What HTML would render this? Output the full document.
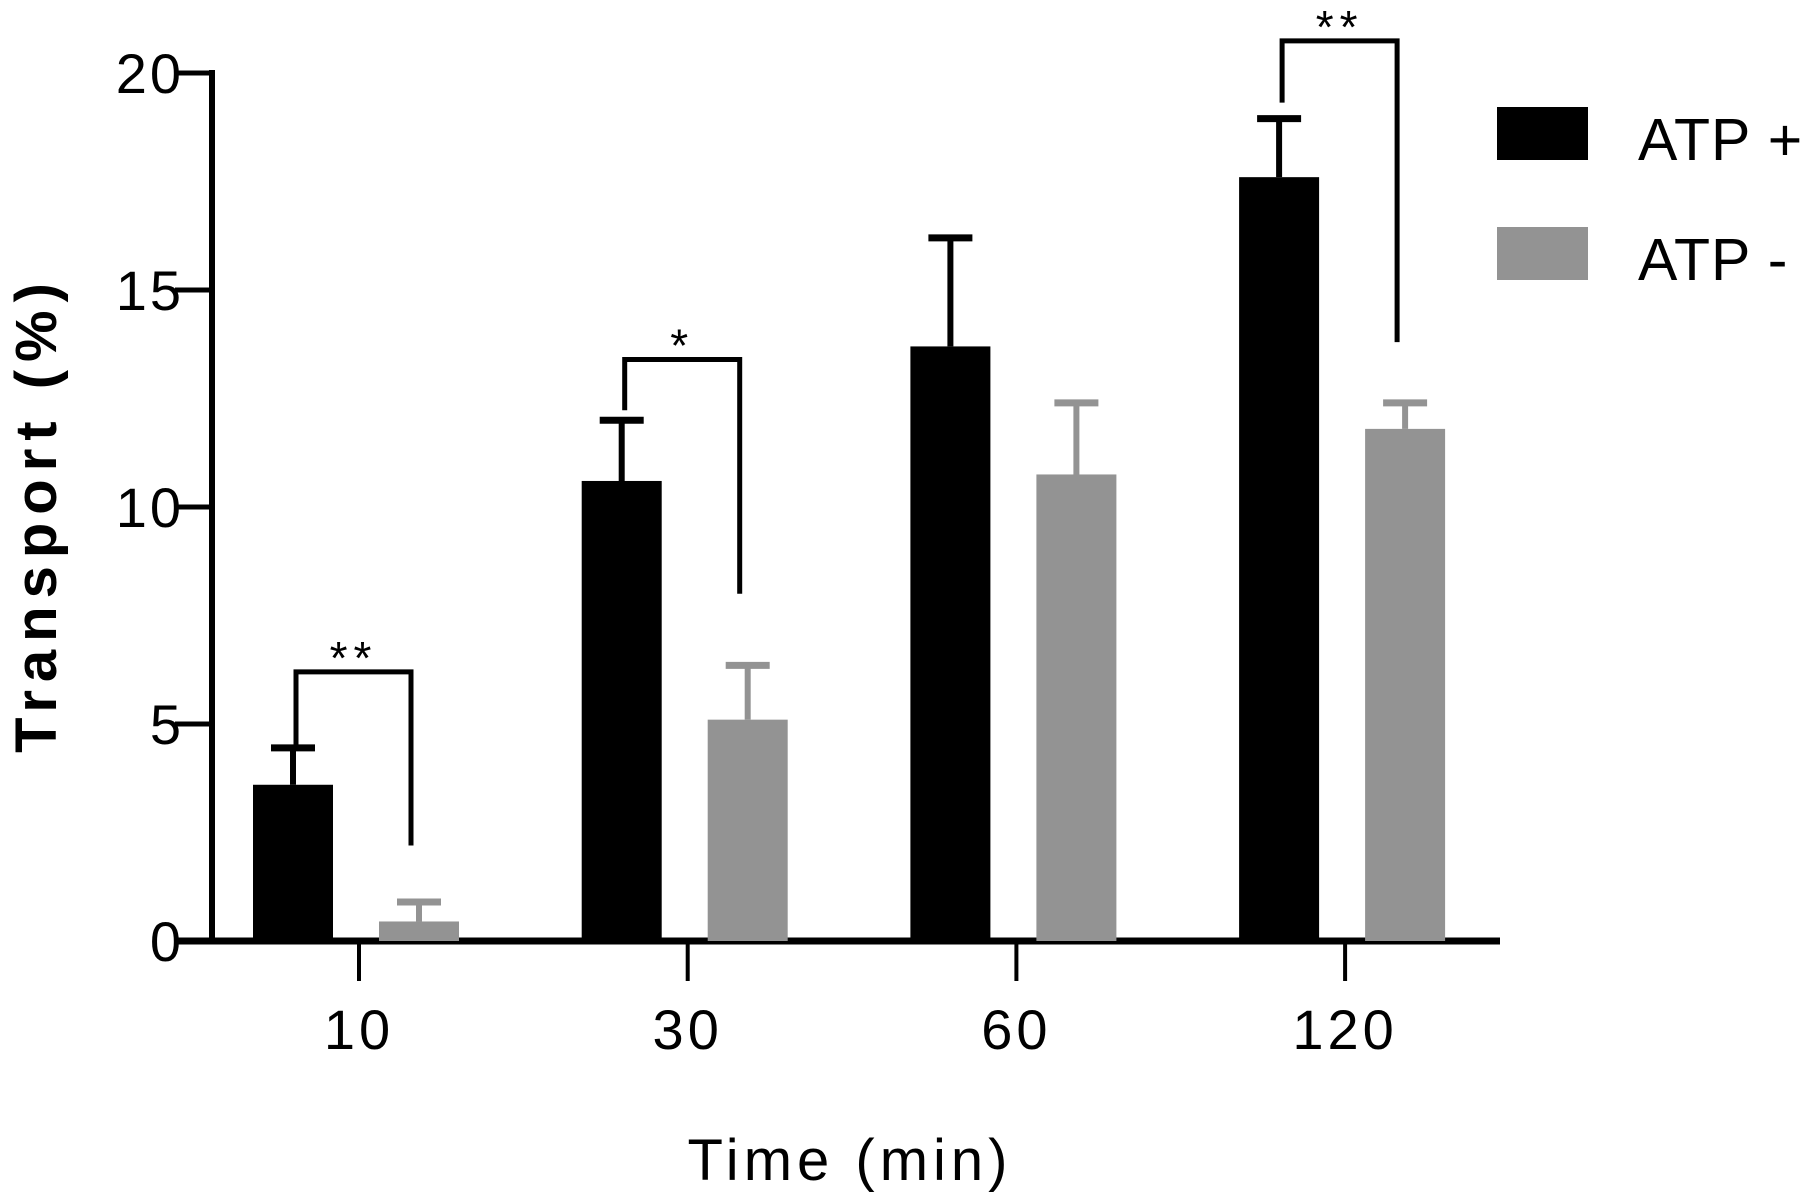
<!DOCTYPE html>
<html><head><meta charset="utf-8"><style>
html,body{margin:0;padding:0;background:#fff;}
svg{display:block;}
text{font-family:"Liberation Sans Narrow","Liberation Sans",sans-serif;fill:#000;}
</style></head><body>
<svg id="chart" width="1800" height="1201" viewBox="0 0 1800 1201" xmlns="http://www.w3.org/2000/svg">
<g id="axes"></g><g id="bars"></g><g id="sig"></g>
<g>
<rect x="1497" y="107" width="91" height="53" fill="#000"/>
<text x="1638" y="160" font-size="59" letter-spacing="1">ATP +</text>
<rect x="1497" y="227" width="91" height="53" fill="#939393"/>
<text x="1638" y="280" font-size="59" letter-spacing="1">ATP -</text>
</g>
<text x="850" y="1180" font-size="58" text-anchor="middle" letter-spacing="5">Time (min)</text>
<text transform="translate(56,514) rotate(-90)" font-size="58" font-weight="bold" text-anchor="middle" letter-spacing="8">Transport (%)</text>
</svg>
<script>
const categories=["10","30","60","120"];
const atpPlus=[3.6,10.6,13.7,17.6];
const atpPlusErr=[4.45,12.0,16.2,18.95];
const atpMinus=[0.45,5.1,10.75,11.8];
const atpMinusErr=[0.9,6.35,12.4,12.4];
const yTicks=[0,5,10,15,20];
const sigLabels=["**","*","","**"];

const NS="http://www.w3.org/2000/svg";
const y0=941,y20=73;
function y(v){return y0-(v/20)*(y0-y20);}
const gx0=359,gstep=328.7;
function gx(i){return gx0+i*gstep;}
const bw=80;
function mk(tag,attrs,parent){const e=document.createElementNS(NS,tag);for(const k in attrs)e.setAttribute(k,attrs[k]);parent.appendChild(e);return e;}
const axes=document.getElementById('axes'),bars=document.getElementById('bars'),sig=document.getElementById('sig');

let a=mk('line',{x1:212,y1:y20-3,x2:212,y2:y0+3,stroke:'#000','stroke-width':6},axes);


a=mk('line',{x1:174,y1:y0,x2:1500,y2:y0,stroke:'#000','stroke-width':7},axes);


yTicks.forEach(t=>{
 let l=mk('line',{x1:175,y1:y(t),x2:212,y2:y(t),stroke:'#000','stroke-width':5},axes);
 
 
 let tx=mk('text',{x:184,y:y(t)+20,'font-size':56,'text-anchor':'end','letter-spacing':3},axes);
 tx.textContent=t;
 
 
});
categories.forEach((c,i)=>{
 let l=mk('line',{x1:gx(i),y1:y0,x2:gx(i),y2:981,stroke:'#000','stroke-width':4},axes);
 
 
 let tx=mk('text',{x:gx(i),y:1049,'font-size':56,'text-anchor':'middle','letter-spacing':4},axes);
 tx.textContent=c;
 
 
 const bx=gx(i)-106, gxx=gx(i)+20;
 const series=[[bx,atpPlus[i],atpPlusErr[i],'#000','bar-atp-plus'],[gxx,atpMinus[i],atpMinusErr[i],'#939393','bar-atp-minus']];
 series.forEach(s=>{
  const cx=s[0]+bw/2;
  let e=mk('line',{x1:cx,y1:y(s[1]),x2:cx,y2:y(s[2]),stroke:s[3],'stroke-width':6},bars);
  
  
  e=mk('line',{x1:cx-22,y1:y(s[2]),x2:cx+22,y2:y(s[2]),stroke:s[3],'stroke-width':7},bars);
  
  
  let r=mk('rect',{x:s[0],y:y(s[1]),width:bw,height:y0-y(s[1]),fill:s[3]},bars);
  
  
 });
 if(sigLabels[i]){
  const lx=bx+bw/2+3, rx=gxx+bw/2-8;
  const topY=(i===0?y(6.2):i===1?y(13.4):y(20.74));
  const lb=y(atpPlusErr[i])-(i===0?0:i===1?10:16);
  const rb=(i===0?y(2.2):i===1?y(8.0):y(13.8));
  let p=mk('path',{d:`M${lx},${lb} L${lx},${topY} L${rx},${topY} L${rx},${rb}`,fill:'none',stroke:'#000','stroke-width':5},sig);
  
  
  let st=mk('text',{x:(lx+rx)/2,y:topY+2,'font-size':46,'text-anchor':'middle','letter-spacing':6},sig);
  st.textContent=sigLabels[i];
  
  
 }
});
</script>
</body></html>
